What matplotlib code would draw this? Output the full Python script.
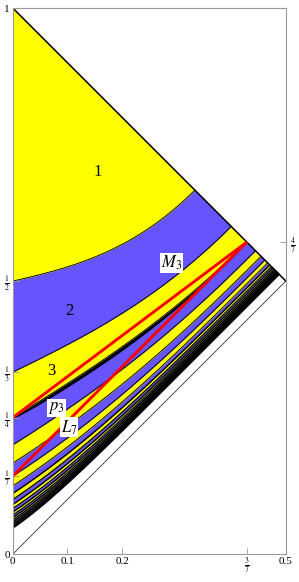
import numpy as np
import matplotlib.pyplot as plt

plt.rcParams['font.family'] = ['Liberation Serif', 'DejaVu Serif']
plt.rcParams['mathtext.fontset'] = 'stix'

# band n lies between boundary n-1 (above) and boundary n (below)
bands = list(range(1, 21))
left_ends = [1 / (n + 1) for n in bands]      # boundary n meets x = 0
top_ends = [n / (2 * n + 1) for n in bands]   # boundary n meets y = 1 - x
band_colors = ['#ffff00' if n % 2 else '#6655ff' for n in bands]

# red segments: start on the left edge, end at (3/7, 4/7)
red_x = [[0, 3 / 7], [0, 3 / 7]]
red_y = [[1 / 4, 4 / 7], [1 / 7, 4 / 7]]

# text labels (text, x, y, boxed)
labels = [('1', 0.155, 0.70, False), ('2', 0.103, 0.445, False),
          ('3', 0.07, 0.335, False), (r'$M_3$', 0.29, 0.533, True),
          (r'$p_3$', 0.08, 0.267, True), (r'$L_7$', 0.103, 0.232, True)]

left_ticks = [0, 1 / 7, 1 / 4, 1 / 3, 1 / 2, 1]
left_labels = ['0', r'$\frac{1}{7}$', r'$\frac{1}{4}$', r'$\frac{1}{3}$', r'$\frac{1}{2}$', '1']
bottom_ticks = [0, 0.1, 0.2, 3 / 7, 0.5]
bottom_labels = ['0', '0.1', '0.2', r'$\frac{3}{7}$', '0.5']


def boundary(i, x):
    # curve from (0, left_ends[i]) to (top_ends[i], 1 - top_ends[i])
    xe = top_ends[i]
    d0 = left_ends[i]
    de = 1 - 2 * xe
    t = np.clip(x / xe, 0, 1)
    p = 2.0 + 0.3 * max(0, bands[i] - 3)
    u = (1 - t) ** p * (1 + 0.45 * t)
    return x + de + (d0 - de) * u


fig = plt.figure(figsize=(2.99, 5.82), dpi=100)
ax = fig.add_axes([0.0425, 0.0481, 0.914, 0.938])

# paint from the lowest band upwards, each one covering the part above its lower boundary
for i in range(len(bands) - 1, -1, -1):
    x = np.linspace(0, top_ends[i], 400)
    ax.fill_between(x, boundary(i, x), 1 - x, color=band_colors[i], lw=0)

# black sliver just below boundary 3
x = np.linspace(0, top_ends[2], 400)
t = x / top_ends[2]
lens = 0.0144 * t ** 0.4 * (1 - t) ** 0.7
ax.fill_between(x, boundary(2, x) - lens, boundary(2, x), color='black', lw=0)

for i in range(len(bands)):
    x = np.linspace(0, top_ends[i], 400)
    ax.plot(x, boundary(i, x), color='black', lw=0.65 if bands[i] < 8 else 0.95)

xs = np.linspace(0, 0.5, 50)
ax.plot(xs, 1 - xs, color='black', lw=1.1)
ax.plot(xs, xs, color='#333333', lw=0.6)
ax.plot([0, 0], [left_ends[-1], 1], color='black', lw=1.4)

for rx, ry in zip(red_x, red_y):
    ax.plot(rx, ry, color='#ff0000', lw=2.1, solid_capstyle='butt')

for txt, lx, ly, boxed in labels:
    kw = dict(boxstyle='square,pad=0.05', fc='white', ec='none') if boxed else None
    ax.text(lx, ly, txt, fontsize=12, ha='center', va='center', bbox=kw)

ax.set_xlim(0, 0.5)
ax.set_ylim(0, 1)
ax.set_aspect('equal', adjustable='box')
ax.set_xticks(bottom_ticks)
ax.set_xticklabels(bottom_labels, fontsize=8)
ax.set_yticks(left_ticks)
ax.set_yticklabels(left_labels, fontsize=8)
ax.tick_params(direction='in', length=4, width=0.6, color='#999999', pad=2)
for s in ['top', 'right', 'bottom']:
    ax.spines[s].set_color('#999999')
    ax.spines[s].set_linewidth(0.8)
ax.spines['left'].set_color('#999999')

right = ax.secondary_yaxis('right')
right.set_yticks([4 / 7])
right.set_yticklabels([r'$\frac{4}{7}$'], fontsize=8)
right.tick_params(direction='in', length=4, width=0.6, color='#999999', pad=3)
right.spines['right'].set_visible(False)

fig.savefig('out.png', dpi=100)
